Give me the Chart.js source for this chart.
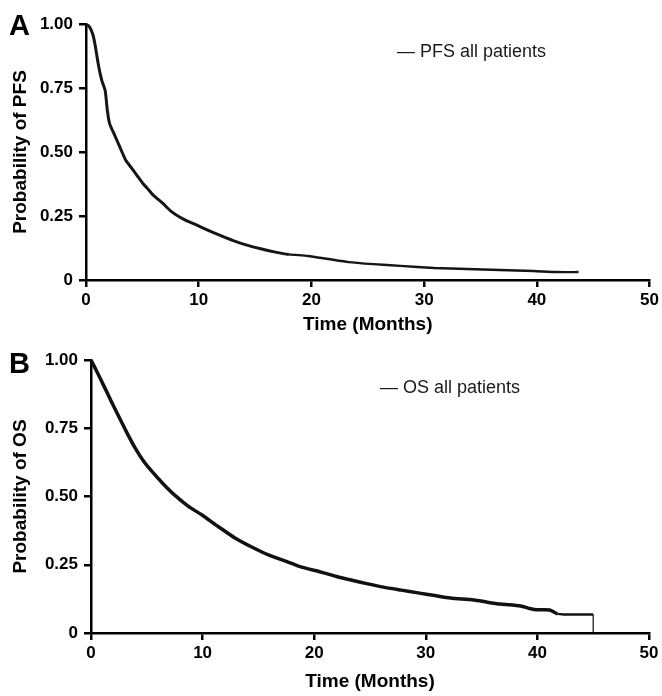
<!DOCTYPE html>
<html>
<head>
<meta charset="utf-8">
<script src="https://cdn.jsdelivr.net/npm/chart.js@4.4.1/dist/chart.umd.min.js"></script>
<style>
  body { margin: 0; background: #fff; }
  #wrapA { position: absolute; left: 0; top: 0; width: 662px; height: 340px; }
  #wrapB { position: absolute; left: 0; top: 340px; width: 662px; height: 356px; }
</style>
</head>
<body>
<div id="wrapA"><canvas id="pfs" width="662" height="340"></canvas></div>
<div id="wrapB"><canvas id="os" width="662" height="356"></canvas></div>
<script>
// PFS curve (months, probability)
const pfsTime = [0, 0.3, 0.6, 0.8, 1.1, 1.4, 1.7, 1.9, 2.1, 2.5, 3.0, 3.5, 4.0, 4.5, 5.0, 5.5, 6.0, 6.8, 7.5, 8.3, 9.0, 9.8, 10.8, 11.8, 13.0, 14.2, 15.5, 16.8, 18.0, 19.7, 21.5, 23.3, 25.5, 27.9, 30.9, 33.8, 36.7, 39.7, 41.8, 43.7];
const pfsProb = [1.0, 0.99, 0.96, 0.92, 0.84, 0.78, 0.74, 0.66, 0.61, 0.57, 0.52, 0.47, 0.44, 0.41, 0.38, 0.355, 0.33, 0.30, 0.27, 0.246, 0.23, 0.215, 0.195, 0.176, 0.155, 0.137, 0.122, 0.109, 0.10, 0.094, 0.082, 0.07, 0.062, 0.055, 0.047, 0.043, 0.039, 0.035, 0.031, 0.031];

// OS curve
const osTime = [0, 0.5, 1.25, 1.8, 2.4, 3.2, 3.95, 4.7, 5.5, 6.5, 7.5, 8.7, 9.95, 11.4, 12.9, 14.4, 15.9, 17.5, 18.8, 20.6, 22.0, 23.3, 24.8, 26.2, 27.8, 29.3, 30.8, 32.2, 34.3, 35.5, 36.7, 38.5, 39.3, 40.0, 41.1, 41.8, 42.5, 43.2, 44.0, 45.0];
const osProb = [1.0, 0.96, 0.897, 0.85, 0.80, 0.735, 0.678, 0.63, 0.59, 0.545, 0.505, 0.465, 0.432, 0.39, 0.348, 0.315, 0.286, 0.262, 0.242, 0.223, 0.207, 0.194, 0.18, 0.168, 0.157, 0.147, 0.137, 0.128, 0.121, 0.113, 0.106, 0.099, 0.09, 0.085, 0.084, 0.07, 0.068, 0.068, 0.068, 0.068];
// last censored drop to zero at 45 months
const osDropTime = [45.0, 45.0];
const osDropProb = [0.068, 0];

const xTicks = [0, 10, 20, 30, 40, 50];
const yTicks = [0, 0.25, 0.5, 0.75, 1.0];

const FONT = "'Liberation Sans', Arial, Helvetica, sans-serif";

// panel letter + legend line drawn on top of the chart
const panelText = {
  id: "panelText",
  afterDraw(chart, args, opts) {
    const ctx = chart.ctx;
    ctx.save();
    ctx.fillStyle = "#000";
    ctx.textAlign = "left";
    ctx.textBaseline = "alphabetic";
    ctx.font = "bold 29px " + FONT;
    ctx.fillText(opts.letter, opts.letterX, opts.letterY);
    ctx.fillStyle = "#1a1a1a";
    ctx.font = "18px " + FONT;
    ctx.fillText("\u2014 " + opts.legend, opts.legendX, opts.legendY);
    ctx.restore();
  }
};

function pts(times, probs) {
  return times.map((t, i) => ({ x: t, y: probs[i] }));
}

function makeChart(id, datasets, opt) {
  return new Chart(document.getElementById(id), {
    type: "line",
    data: { datasets: datasets },
    options: {
      responsive: false,
      animation: false,
      layout: { padding: { top: opt.top, right: opt.right, left: 0, bottom: 0 } },
      plugins: {
        legend: { display: false },
        tooltip: { enabled: false },
        panelText: opt.text
      },
      scales: {
        x: {
          type: "linear",
          min: 0,
          max: 50,
          afterBuildTicks: (s) => { s.ticks = xTicks.map((v) => ({ value: v })); },
          afterFit: (s) => { s.height = opt.xHeight; },
          border: { color: "#000", width: 2.5 },
          grid: { drawOnChartArea: false, color: "#000", lineWidth: 2.5, tickLength: 7 },
          ticks: { color: "#000", padding: 3, maxRotation: 0, font: { family: FONT, size: 17, weight: "bold" } },
          title: {
            display: true,
            text: "Time (Months)",
            color: "#000",
            padding: { top: 0, bottom: opt.titlePad },
            font: { family: FONT, size: 19, weight: "bold" }
          }
        },
        y: {
          min: 0,
          max: 1,
          afterBuildTicks: (s) => { s.ticks = yTicks.map((v) => ({ value: v })); },
          afterFit: (s) => { s.width = opt.yWidth; },
          border: { color: "#000", width: 2.5 },
          grid: { drawOnChartArea: false, color: "#000", lineWidth: 2.5, tickLength: 7 },
          ticks: {
            color: "#000",
            padding: 6,
            font: { family: FONT, size: 17, weight: "bold" },
            callback: (v) => (v === 0 ? "0" : v.toFixed(2))
          },
          title: {
            display: true,
            text: opt.yTitle,
            color: "#000",
            padding: { top: 9, bottom: 0 },
            font: { family: FONT, size: 19, weight: "bold" }
          }
        }
      }
    },
    plugins: [panelText]
  });
}

makeChart("pfs", [{
  data: pts(pfsTime, pfsProb),
  borderColor: "#151515",
  borderWidth: 3,
  pointRadius: 0,
  tension: 0.2,
  segment: { borderWidth: (c) => (c.p0.parsed.x >= 18 ? 2.4 : 3) }
}], {
  yTitle: "Probability of PFS",
  top: 24, right: 9, xHeight: 60, yWidth: 86, titlePad: 4,
  text: { letter: "A", letterX: 9, letterY: 35, legend: "PFS all patients", legendX: 397, legendY: 57 }
});

makeChart("os", [{
  data: pts(osTime, osProb),
  borderColor: "#111",
  borderWidth: 3.5,
  pointRadius: 0,
  tension: 0.25,
  segment: { borderWidth: (c) => (c.p0.parsed.x >= 41.8 ? 2.5 : 3.5) }
}, {
  data: pts(osDropTime, osDropProb),
  borderColor: "#111",
  borderWidth: 1.2,
  pointRadius: 0,
  tension: 0
}], {
  yTitle: "Probability of OS",
  top: 20, right: 13, xHeight: 63, yWidth: 91, titlePad: 3,
  text: { letter: "B", letterX: 9, letterY: 33, legend: "OS all patients", legendX: 380, legendY: 53 }
});
</script>
</body>
</html>
